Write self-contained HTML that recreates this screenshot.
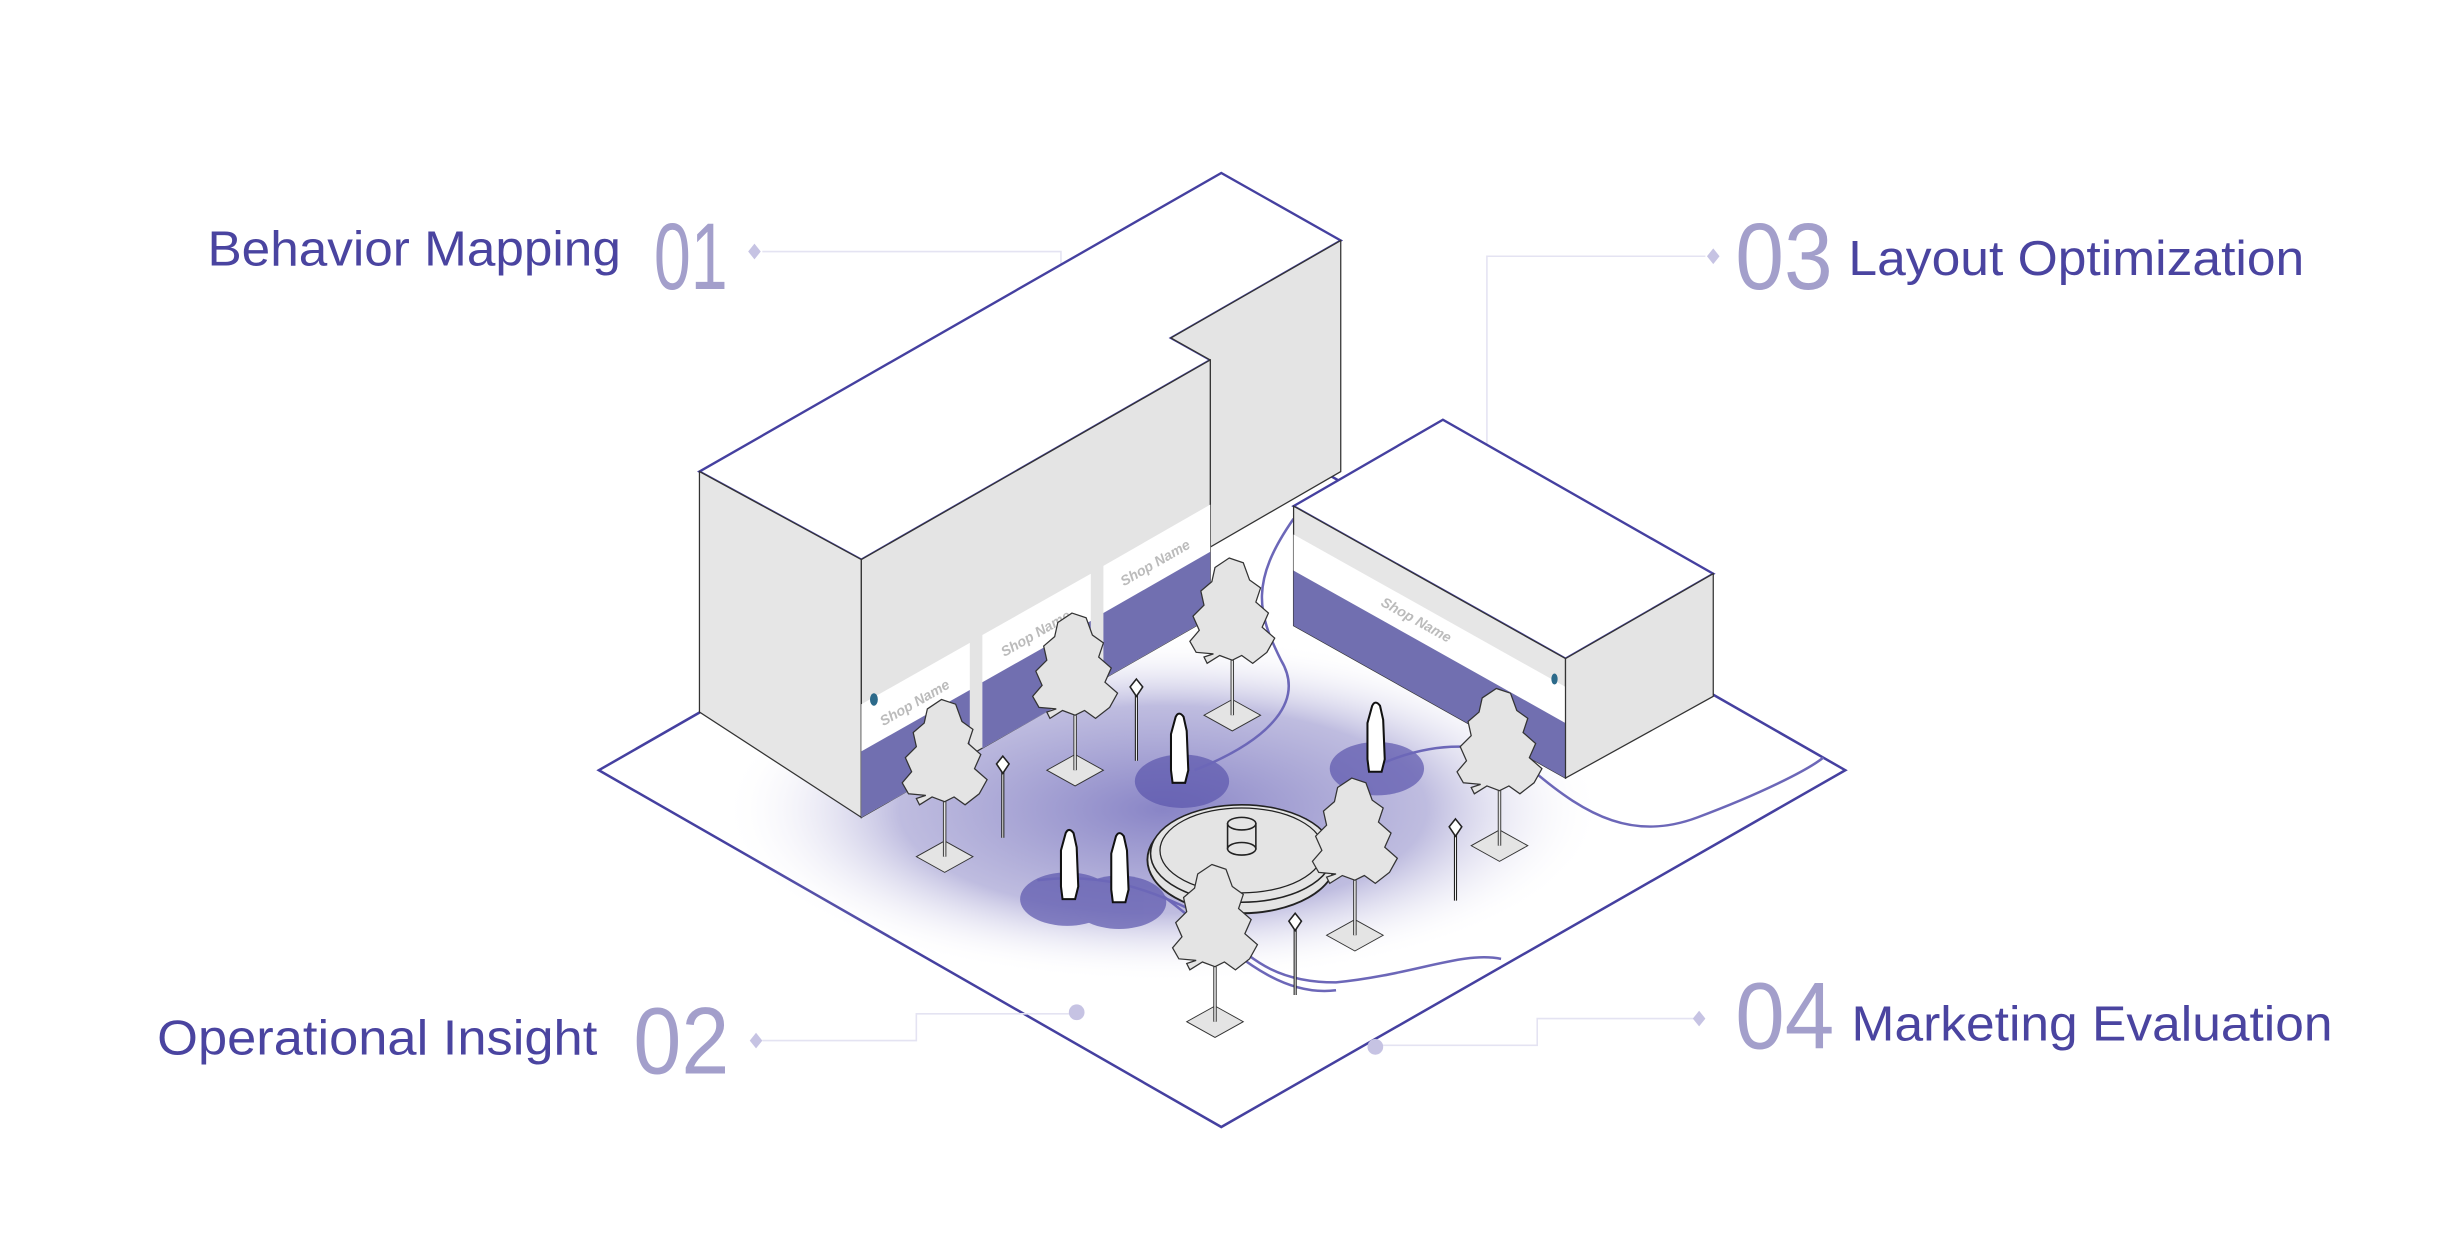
<!DOCTYPE html>
<html><head><meta charset="utf-8"><style>
html,body{margin:0;padding:0;background:#fff;}
svg{display:block;}
text{font-family:"Liberation Sans",sans-serif;}
</style></head><body>
<svg width="2452" height="1255" viewBox="0 0 1560 798.4" xmlns="http://www.w3.org/2000/svg">
<defs>
<radialGradient id="glow" cx="0.5" cy="0.5" r="0.5">
<stop offset="0" stop-color="#6b66b8" stop-opacity="0.8"/>
<stop offset="0.6" stop-color="#8a86c6" stop-opacity="0.55"/>
<stop offset="1" stop-color="#ffffff" stop-opacity="0"/>
</radialGradient>
<g id="tree">
<polygon points="0,-10 18,0 0,10 -18,0" fill="#e4e4e4" stroke="#333" stroke-width="0.6"/>
<line x1="0" y1="0" x2="0" y2="-35" stroke="#333" stroke-width="2.2"/>
<line x1="0" y1="0" x2="0" y2="-35" stroke="#e4e4e4" stroke-width="1"/>
<path d="M-2,-100 L7,-97 L11,-86 L18,-81 L15,-72 L23,-65 L19,-56 L27,-49 L22,-40 L13,-33 L6,-38 L0,-35 L-8,-38 L-16,-33 L-18,-37 L-12,-39 L-23,-40 L-27,-47 L-21,-54 L-25,-63 L-18,-70 L-20,-79 L-13,-85 L-11,-94 Z" fill="#e4e4e4" stroke="#333" stroke-width="0.8"/>
</g>
<g id="lamp">
<line x1="0" y1="0" x2="0" y2="-42" stroke="#222" stroke-width="2"/>
<line x1="0" y1="0" x2="0" y2="-42" stroke="#fff" stroke-width="0.6"/>
<polygon points="0,-52 4,-47 0,-41 -4,-47" fill="#fff" stroke="#222" stroke-width="1"/>
</g>
<g id="person">
<path d="M-2,-42 Q0,-46 3,-42 L5,-33 L6,-8 L4,0 L-4,0 L-5,-8 L-5,-31 Z" fill="#fff" stroke="#111" stroke-width="1.3"/>
</g>
</defs>

<polygon points="381,490 777,263 1174,490 777,717" fill="#fff" stroke="#4540a0" stroke-width="1.6"/>
<ellipse cx="740" cy="515" rx="280" ry="110" fill="url(#glow)"/>
<g fill="#5b56ad" opacity="0.7">
<ellipse cx="752" cy="497" rx="30" ry="17"/>
<ellipse cx="876" cy="489" rx="30" ry="17"/>
<ellipse cx="679" cy="572" rx="30" ry="17"/>
<ellipse cx="712" cy="574" rx="30" ry="17"/>
</g>

<g fill="none" stroke="#6c67b8" stroke-width="1.6">
<path d="M823,330 C795,370 800,390 815,420 C830,445 810,470 760,490"/>
<path d="M870,490 C910,470 950,470 975,490 C1010,520 1040,535 1080,520 C1120,505 1150,490 1160,482"/>
<path d="M660,560 C700,555 730,565 760,580 C790,600 800,625 850,625 C900,620 930,605 955,610"/>
<path d="M740,570 C780,600 810,635 850,630"/>
</g>

<g stroke="#e4e3f2" stroke-width="1" fill="none">
<polyline points="485,160 675,160 675,425"/>
<polyline points="1085,163 946,163 946,425"/>
<polyline points="485,662 583,662 583,645 685,645"/>
<polyline points="1078,648 978,648 978,665 875,665"/>
</g>
<g fill="#c6c3e3">
<polygon points="480,155 484,160 480,165 476,160"/>
<polygon points="1090,158 1094,163 1090,168 1086,163"/>
<polygon points="481,657 485,662 481,667 477,662"/>
<polygon points="1081,643 1085,648 1081,653 1077,648"/>
<circle cx="685" cy="644" r="5"/>
<circle cx="875" cy="666" r="5"/>
<circle cx="945" cy="423" r="5"/>
</g>

<polygon points="445,300 777,110 853,153 745,215 770,229 548,356" fill="#fff" stroke="#4540a0" stroke-width="1.5"/>
<polygon points="745,215 853,153 853,300 770,348 770,229" fill="#e4e4e4" stroke="#333" stroke-width="0.8"/>
<polygon points="445,300 548,356 548,520 445,453" fill="#e6e6e6" stroke="#333" stroke-width="0.8"/>
<polygon points="548,356 770,229 770,393 548,520" fill="#e4e4e4" stroke="#333" stroke-width="0.8"/>
<g>
<polygon points="548,448 617,409 617,481 548,520" fill="#fff"/>
<polygon points="548,478 617,439 617,481 548,520" fill="#716fb0"/>
<polygon points="625,404 694,365 694,437 625,476" fill="#fff"/>
<polygon points="625,434 694,395 694,437 625,476" fill="#716fb0"/>
<polygon points="702,360 770,321 770,393 702,432" fill="#fff"/>
<polygon points="702,390 770,351 770,393 702,432" fill="#716fb0"/>
</g>
<g fill="#bbb" font-size="9" font-weight="bold" font-style="italic">
<text transform="translate(562,462) rotate(-30)">Shop Name</text>
<text transform="translate(639,418) rotate(-30)">Shop Name</text>
<text transform="translate(715,373) rotate(-30)">Shop Name</text>
</g>
<ellipse cx="556" cy="445" rx="2.5" ry="4" fill="#2c6a8a"/>

<polygon points="823,322 918,267 1090,365 996,419" fill="#fff" stroke="#4540a0" stroke-width="1.5"/>
<polygon points="823,322 996,419 996,495 823,398" fill="#e6e6e6" stroke="#333" stroke-width="0.8"/>
<polygon points="823,340 996,437 996,460 823,363" fill="#fff"/>
<polygon points="823,363 996,460 996,495 823,398" fill="#716fb0"/>
<polygon points="996,419 1090,365 1090,443 996,495" fill="#e4e4e4" stroke="#333" stroke-width="0.8"/>
<text transform="translate(878,385) rotate(29)" fill="#bbb" font-size="9" font-weight="bold" font-style="italic">Shop Name</text>
<ellipse cx="989" cy="432" rx="2" ry="3.5" fill="#2c6a8a"/>

<ellipse cx="790" cy="547" rx="60" ry="34" fill="#e4e4e4" stroke="#222" stroke-width="1.2"/>
<ellipse cx="790" cy="543" rx="58" ry="31" fill="#e4e4e4" stroke="#222" stroke-width="1"/>
<ellipse cx="790" cy="541" rx="52" ry="27" fill="none" stroke="#222" stroke-width="0.8"/>
<rect x="781" y="524" width="18" height="16" fill="#e4e4e4" stroke="#222" stroke-width="1"/>
<ellipse cx="790" cy="540" rx="9" ry="4" fill="#e4e4e4" stroke="#222" stroke-width="1"/>
<ellipse cx="790" cy="524" rx="9" ry="4" fill="#e4e4e4" stroke="#222" stroke-width="1"/>

<use href="#tree" transform="translate(784,455)"/>
<use href="#tree" transform="translate(684,490)"/>
<use href="#tree" transform="translate(601,545)"/>
<use href="#tree" transform="translate(954,538)"/>
<use href="#tree" transform="translate(862,595)"/>
<use href="#tree" transform="translate(773,650)"/>
<use href="#lamp" transform="translate(723,484)"/>
<use href="#lamp" transform="translate(638,533)"/>
<use href="#lamp" transform="translate(926,573)"/>
<use href="#lamp" transform="translate(824,633)"/>
<use href="#person" transform="translate(750,498)"/>
<use href="#person" transform="translate(875,491)"/>
<use href="#person" transform="translate(680,572)"/>
<use href="#person" transform="translate(712,574)"/>

<g fill="#4a44a0" font-size="31">
<text x="132" y="169" textLength="263" lengthAdjust="spacingAndGlyphs">Behavior Mapping</text>
<text x="1176" y="175" textLength="290" lengthAdjust="spacingAndGlyphs">Layout Optimization</text>
<text x="100" y="671" textLength="280" lengthAdjust="spacingAndGlyphs">Operational Insight</text>
<text x="1178" y="662" textLength="306" lengthAdjust="spacingAndGlyphs">Marketing Evaluation</text>
</g>
<g fill="#a39fcb" font-size="60">
<text x="416" y="184" textLength="47" lengthAdjust="spacingAndGlyphs">01</text>
<text x="1104" y="184" textLength="62" lengthAdjust="spacingAndGlyphs">03</text>
<text x="403" y="683" textLength="61" lengthAdjust="spacingAndGlyphs">02</text>
<text x="1104" y="667" textLength="63" lengthAdjust="spacingAndGlyphs">04</text>
</g>
</svg>
</body></html>
